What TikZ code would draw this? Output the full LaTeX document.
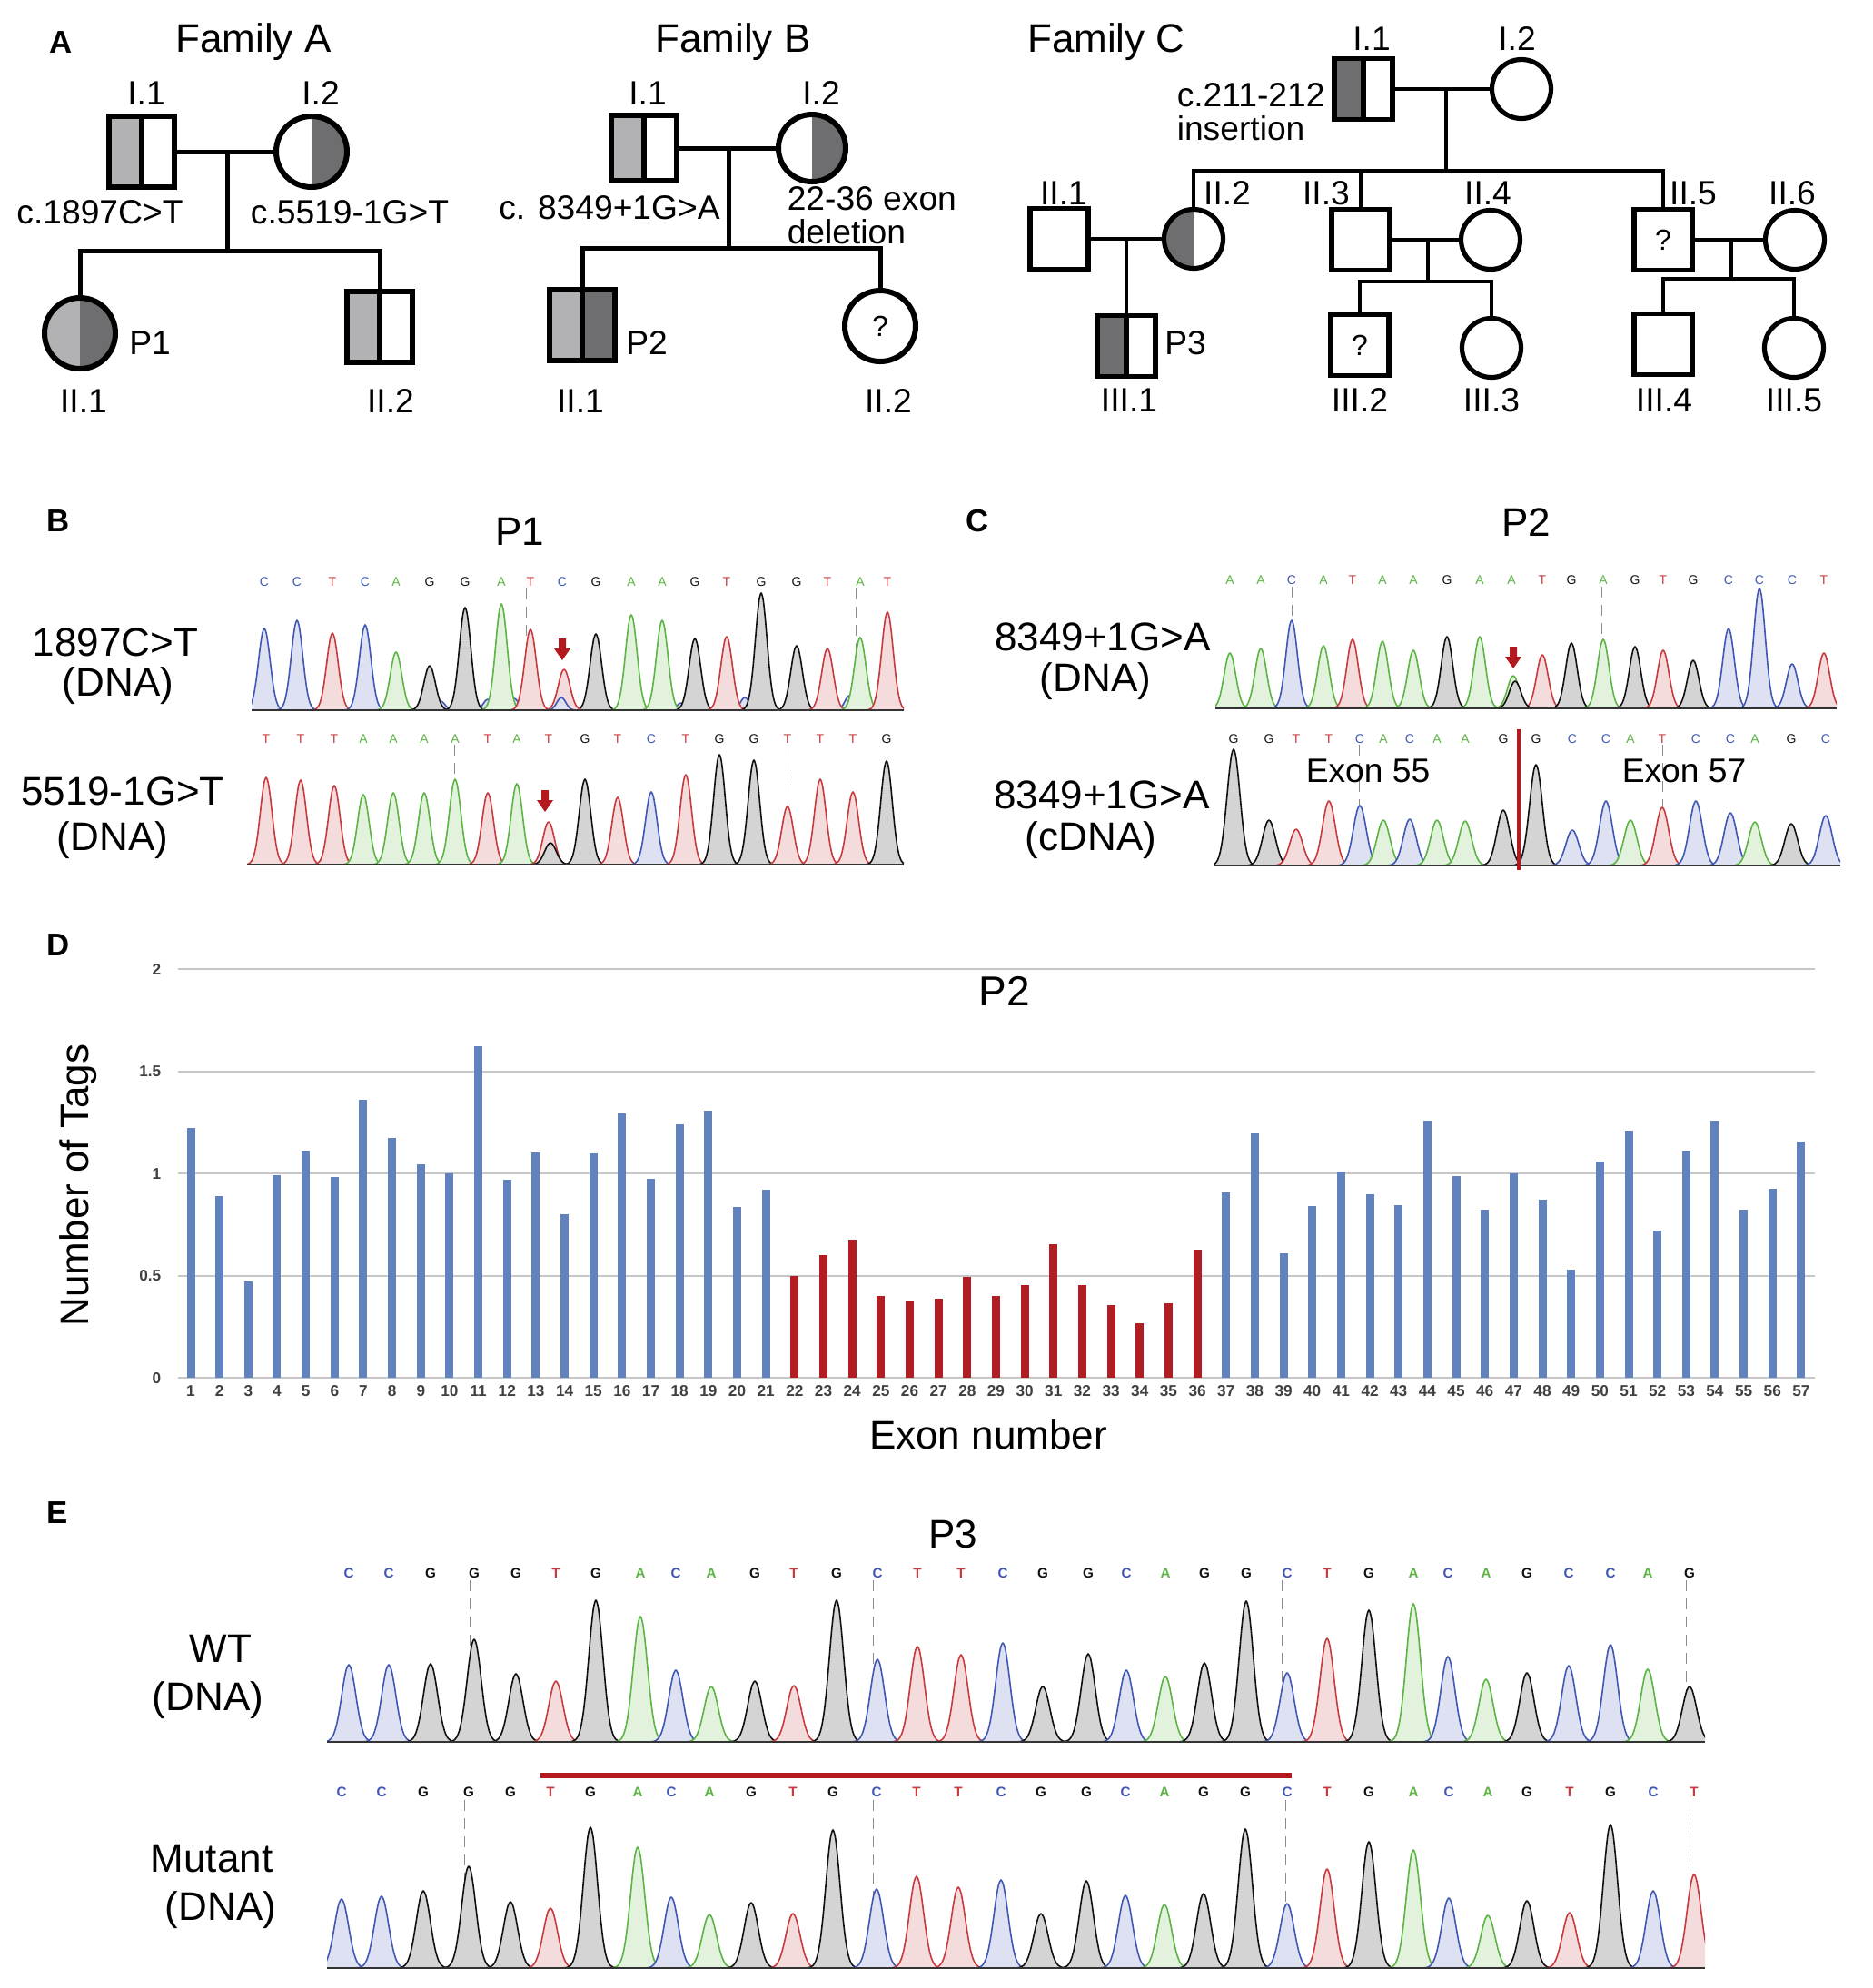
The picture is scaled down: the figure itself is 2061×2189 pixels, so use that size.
\documentclass[tikz,border=0pt]{standalone}
\usepackage{fontspec}
\setmainfont{Liberation Sans}

\definecolor{lg}{HTML}{B2B2B4}
\definecolor{dg}{HTML}{6E6E70}
\definecolor{bA}{HTML}{5CB444}
\definecolor{bC}{HTML}{4058B4}
\definecolor{bG}{HTML}{111111}
\definecolor{bT}{HTML}{C83A3E}
\definecolor{barb}{HTML}{6282BE}
\definecolor{barr}{HTML}{B01E24}
\definecolor{mutred}{HTML}{B3191E}

% one trace peak: [sigma]{x}{top}{colour}, baseline in \chrbase
\newcommand{\peakat}[4][8]{%
  \filldraw[draw=#4, fill=#4!18, line width=0.4pt, line join=round]
    plot[domain=#2-3*#1:#2+3*#1, samples=25, smooth]
    (\x, {\chrbase-(\chrbase-#3)*exp(-(((\x-#2)/#1)^2))});}
\newcommand{\mutarrow}[2]{%
  \fill[mutred] (#1-4,#2) -- (#1+4,#2) -- (#1+4,#2+11) -- (#1+9,#2+11)
    -- (#1,#2+24) -- (#1-9,#2+11) -- (#1-4,#2+11) -- cycle;}

\tikzset{
  msq/.style={rectangle, draw, line width=1.5pt, minimum width=18pt, minimum height=19.5pt, inner sep=0pt},
  fci/.style={circle, draw, line width=1.5pt, minimum size=19.5pt, inner sep=0pt},
  csq/.style={rectangle, draw, line width=1.3pt, minimum width=16pt, minimum height=16.75pt, inner sep=0pt},
  cci/.style={circle, draw, line width=1.3pt, minimum size=16.25pt, inner sep=0pt},
  sqh/.style 2 args={path picture={
    \fill[#1] (path picture bounding box.south west) rectangle (path picture bounding box.north);
    \fill[#2] (path picture bounding box.south) rectangle (path picture bounding box.north east);
    \draw[line width=1.3pt] (path picture bounding box.south) -- (path picture bounding box.north);}},
  cih/.style 2 args={path picture={
    \fill[#1] (path picture bounding box.south west) rectangle (path picture bounding box.north);
    \fill[#2] (path picture bounding box.south) rectangle (path picture bounding box.north east);}},
  pl/.style={line width=1.25pt},
  cpl/.style={line width=1.05pt},
  txt/.style={inner sep=0pt, text depth=0pt},
  big/.style={txt, font=\fontsize{11}{13}\selectfont, text height=7.9pt},
  ped/.style={txt, font=\fontsize{9.3}{11}\selectfont, text height=6.65pt},
  plab/.style={txt, font=\fontsize{8.7}{10}\selectfont\bfseries, text height=6.25pt},
  qm/.style={font=\fontsize{8}{9}\selectfont},
  nt/.style={txt, font=\fontsize{3.5}{4}\selectfont, text height=2.5pt},
  ntb/.style={txt, font=\fontsize{3.8}{4.5}\selectfont\bfseries, text height=2.75pt},
  tick/.style={txt, font=\fontsize{4.3}{5}\selectfont\bfseries, text height=3.1pt, text=black!75},
  grid/.style={black!22, line width=0.5pt},
  dl/.style={black!45, densely dashed, line width=0.25pt},
  base/.style={black!80, line width=0.5pt},
}

\begin{document}
\begin{tikzpicture}[x=0.25pt, y=-0.25pt]
\useasboundingbox (0,0) rectangle (2061,2189);

%% A: pedigrees
\node[plab] (pA) at (67,46) {A};
\node[big] (famA) at (279,42) {Family A};
\node[msq, sqh={lg}{white}] (AI1) at (156,167) {};
\node[fci, cih={white}{dg}] (AI2) at (343,167) {};
\node[fci, cih={lg}{dg}] (AII1) at (88,367) {};
\node[msq, sqh={lg}{white}] (AII2) at (418,360) {};
\coordinate (Am) at (250,167);
\coordinate (As) at (250,276);
\draw[pl] (AI1) -- (AI2);
\draw[pl] (Am) -- (As);
\draw[pl] (AII1.north) |- (As) -| (AII2.north);
\node[ped] (AI1t) at (161,102) {I.1};
\node[ped] (AI2t) at (353,102) {I.2};
\node[ped] (AI1v) at (110,233) {c.1897C>T};
\node[ped] (AI2v) at (385,233) {c.5519-1G>T};
\node[ped] (AP1) at (165,377) {P1};
\node[ped] (AII1t) at (92,441) {II.1};
\node[ped] (AII2t) at (430,441) {II.2};

\node[big] (famB) at (807,42) {Family B};
\node[msq, minimum height=18pt, sqh={lg}{white}] (BI1) at (709,163) {};
\node[fci, minimum size=18.5pt, cih={white}{dg}] (BI2) at (894,163) {};
\node[msq, sqh={lg}{dg}] (BII1) at (641,358) {};
\node[fci, qm] (BII2) at (969,359) {?};
\coordinate (Bm) at (802,163);
\coordinate (Bs) at (802,273);
\draw[pl] (BI1) -- (BI2);
\draw[pl] (Bm) -- (Bs);
\draw[pl] (BII1.north) |- (Bs) -| (BII2.north);
\node[ped] (BI1t) at (713,102) {I.1};
\node[ped] (BI2t) at (904,102) {I.2};
\node[ped] (BI1v) at (671,228) {c. 8349+1G>A};
\node[ped, anchor=west] (BI2v) at (866,218) {22-36 exon};
\node[ped, anchor=west] (BI2w) at (866,255) {deletion};
\node[ped] (BP2) at (712,377) {P2};
\node[ped] (BII1t) at (639,441) {II.1};
\node[ped] (BII2t) at (978,441) {II.2};

\node[big] (famC) at (1218,42) {Family C};
\node[csq, sqh={dg}{white}] (CI1) at (1501,98) {};
\node[cci] (CI2) at (1675,98) {};
\coordinate (Cm) at (1592,98);
\coordinate (Cs) at (1592,188);
\node[csq] (CII1) at (1166,263) {};
\node[cci, cih={dg}{white}] (CII2) at (1314,263) {};
\node[csq] (CII3) at (1498,264) {};
\node[cci] (CII4) at (1641,264) {};
\node[csq, qm] (CII5) at (1831,264) {?};
\node[cci] (CII6) at (1976,264) {};
\coordinate (Cp) at (1240,263);
\node[csq, sqh={dg}{white}] (CIII1) at (1240,381) {};
\coordinate (Cq) at (1572,264);
\coordinate (Cr) at (1572,310);
\node[csq, qm] (CIII2) at (1497,380) {?};
\node[cci] (CIII3) at (1642,383) {};
\coordinate (Ct) at (1906,264);
\coordinate (Cu) at (1906,307);
\node[csq] (CIII4) at (1831,379) {};
\node[cci] (CIII5) at (1975,383) {};
\draw[cpl] (CI1) -- (CI2);
\draw[cpl] (Cm) -- (Cs);
\draw[cpl] (CII2.north) |- (Cs) -| (CII5.north);
\draw[cpl] (CII3.north) -- (CII3.north |- Cs);
\draw[cpl] (CII1) -- (CII2);
\draw[cpl] (Cp) -- (CIII1.north);
\draw[cpl] (CII3) -- (CII4);
\draw[cpl] (Cq) -- (Cr);
\draw[cpl] (CIII2.north) |- (Cr) -| (CIII3.north);
\draw[cpl] (CII5) -- (CII6);
\draw[cpl] (Ct) -- (Cu);
\draw[cpl] (CIII4.north) |- (Cu) -| (CIII5.north);
\node[ped] (CI1t) at (1510,42) {I.1};
\node[ped] (CI2t) at (1670,42) {I.2};
\node[ped, anchor=west] (CI1v) at (1295,104) {c.211-212};
\node[ped, anchor=west] (CI1w) at (1295,141) {insertion};
\node[ped] (CII1t) at (1171,212) {II.1};
\node[ped] (CII2t) at (1351,212) {II.2};
\node[ped] (CII3t) at (1460,212) {II.3};
\node[ped] (CII4t) at (1638,212) {II.4};
\node[ped] (CII5t) at (1864,212) {II.5};
\node[ped] (CII6t) at (1973,212) {II.6};
\node[ped] (CP3) at (1305,377) {P3};
\node[ped] (CIII1t) at (1243,440) {III.1};
\node[ped] (CIII2t) at (1497,440) {III.2};
\node[ped] (CIII3t) at (1642,440) {III.3};
\node[ped] (CIII4t) at (1832,440) {III.4};
\node[ped] (CIII5t) at (1975,440) {III.5};

%% B: P1 traces
\node[plab] (pB) at (64,573) {B};
\node[big] (tP1) at (572,585) {P1};
\node[big] (lB1) at (127,707) {1897C>T};
\node[big] (lB1d) at (130,751) {(DNA)};
\node[big] (lB2) at (135,871) {5519-1G>T};
\node[big] (lB2d) at (124,921) {(DNA)};

\begin{scope}
\clip (277,628) rectangle (995,786);
\def\chrbase{782}
\draw[dl] (579,648) -- (579,782);
\draw[dl] (942,648) -- (942,782);
\foreach \p/\h in {283/770, 336/773, 436/769, 485/772, 537/770, 566/769, 705/773, 750/774, 820/768, 935/766, 977/768}
  \peakat[7]{\p}{\h}{bC};
\foreach \p/\h/\l [count=\i] in {291/692/C, 327/683/C, 366/697/T, 402/688/C, 436/718/A, 473/733/G, 512/669/G, 552/665/A, 584/693/T, 656/698/G, 695/677/A, 729/683/A, 765/703/G, 800/701/T, 838/653/G, 877/711/G, 911/714/T, 947/702/A, 977/674/T}{
  \peakat[9]{\p}{\h}{b\l}
  \node[nt, text=b\l] (Bt\i) at (\p,640) {\l};
}
\peakat[9]{621}{737}{bT}
\peakat[7]{618}{768}{bC}
\node[nt, text=bC] (BtM) at (619,640) {C};
\draw[base] (277,782) -- (995,782);
\end{scope}
\mutarrow{619}{703}

\begin{scope}
\clip (272,802) rectangle (995,956);
\def\chrbase{952}
\draw[dl] (500,820) -- (500,952);
\draw[dl] (867,820) -- (867,952);
\foreach \p/\h/\l [count=\i] in {293/856/T, 331/859/T, 368/865/T, 400/875/A, 433/873/A, 467/873/A, 501/858/A, 537/873/T, 569/863/A, 644/858/G, 680/878/T, 717/872/C, 755/853/T, 792/831/G, 830/837/G, 867/888/T, 903/858/T, 939/872/T, 976/838/G}{
  \peakat[9]{\p}{\h}{b\l}
  \node[nt, text=b\l] (Bb\i) at (\p,813) {\l};
}
\peakat[9]{604}{905}{bT}
\peakat[9]{606}{928}{bG}
\node[nt, text=bT] (BbM) at (604,813) {T};
\draw[base] (272,952) -- (995,952);
\end{scope}
\mutarrow{600}{870}

%% C: P2 traces
\node[plab] (pC) at (1076,573) {C};
\node[big] (tP2) at (1680,575) {P2};
\node[big] (lC1) at (1214,701) {8349+1G>A};
\node[big] (lC1d) at (1206,746) {(DNA)};
\node[big] (lC2) at (1213,875) {8349+1G>A};
\node[big] (lC2d) at (1201,921) {(cDNA)};

\begin{scope}
\clip (1338,626) rectangle (2022,784);
\def\chrbase{780}
\draw[dl] (1422,646) -- (1422,780);
\draw[dl] (1763,646) -- (1763,780);
\foreach \p/\h/\l [count=\i] in {1354/719/A, 1388/714/A, 1422/683/C, 1457/711/A, 1489/704/T, 1522/706/A, 1556/716/A, 1593/701/G, 1629/701/A, 1698/721/T, 1730/708/G, 1765/704/A, 1800/712/G, 1831/716/T, 1864/727/G, 1903/692/C, 1937/648/C, 1973/731/C, 2008/719/T}{
  \peakat[9]{\p}{\h}{b\l}
  \node[nt, text=b\l] (Ct\i) at (\p,638) {\l};
}
\peakat[9]{1666}{744}{bA}
\peakat[9]{1668}{750}{bG}
\node[nt, text=bA] (CtM) at (1664,638) {A};
\draw[base] (1338,780) -- (2022,780);
\end{scope}
\mutarrow{1666}{712}

\begin{scope}
\clip (1336,802) rectangle (2026,956);
\def\chrbase{953}
\draw[dl] (1496,820) -- (1496,953);
\draw[dl] (1830,820) -- (1830,953);
\foreach \p/\h/\l [count=\i] in {1358/825/G, 1397/903/G, 1427/913/T, 1463/882/T, 1497/887/C, 1523/903/A, 1552/902/C, 1582/903/A, 1613/904/A, 1655/892/G, 1691/842/G, 1731/914/C, 1768/882/C, 1795/903/A, 1830/889/T, 1867/882/C, 1905/895/C, 1932/905/A, 1972/907/G, 2010/898/C}{
  \peakat[10]{\p}{\h}{b\l}
  \node[nt, text=b\l] (Cb\i) at (\p,813) {\l};
}
\draw[base] (1336,953) -- (2026,953);
\end{scope}
\draw[mutred, line width=1.1pt] (1672,803) -- (1672,958);
\node[ped] (ex55) at (1506,848) {Exon 55};
\node[ped] (ex57) at (1854,848) {Exon 57};

%% D: exon tag counts
\node[plab] (pD) at (64,1040) {D};
\node[big, font=\fontsize{11.5}{13}\selectfont] (tP2d) at (1106,1092) {P2};
\foreach \g [count=\j] in {0,0.5,1,1.5,2}{
  \draw[grid] (196,{1517-225*\g}) -- (1998,{1517-225*\g});
  \node[tick, anchor=east] (yt\j) at (178,{1517-225*\g}) {\g};
}
\foreach \v [count=\i] in {1.222,0.891,0.472,0.993,1.112,0.981,1.362,1.175,1.046,0.998,1.621,0.969,1.104,0.801,1.100,1.294,0.973,1.241,1.307,0.837,0.920,0.497,0.598,0.676,0.399,0.379,0.387,0.492,0.399,0.455,0.654,0.455,0.357,0.268,0.365,0.628,0.905,1.194,0.611,0.840,1.007,0.898,0.846,1.260,0.985,0.823,0.998,0.871,0.530,1.058,1.211,0.722,1.112,1.260,0.823,0.925,1.156}{
  \pgfmathsetmacro{\bx}{210+31.66*(\i-1)}
  \def\bcol{barb}
  \ifnum\i>21 \ifnum\i<37 \def\bcol{barr}\fi\fi
  \fill[fill=\bcol] (\bx-4.5,1517) rectangle (\bx+4.5,{1517-225*\v});
  \node[tick] (xt\i) at (\bx,1531) {\i};
}
\node[big, rotate=90] (ylab) at (82,1305) {Number of Tags};
\node[big] (xlab) at (1088,1580) {Exon number};

%% E: P3 traces
\node[plab] (pE) at (63,1665) {E};
\node[big] (tP3) at (1049,1689) {P3};
\node[big] (lWT) at (243,1815) {WT};
\node[big] (lWTd) at (229,1868) {(DNA)};
\node[big] (lMu) at (233,2046) {Mutant};
\node[big] (lMud) at (243,2099) {(DNA)};

\begin{scope}
\clip (360,1720) rectangle (1877,1921);
\def\chrbase{1918}
\foreach \d in {517,961,1411,1856} \draw[dl] (\d,1740) -- (\d,1918);
\foreach \p/\h/\l [count=\i] in {384/1833/C, 428/1833/C, 474/1832/G, 522/1805/G, 568/1843/G, 612/1851/T, 656/1762/G, 705/1780/A, 744/1839/C, 783/1857/A, 831/1851/G, 874/1856/T, 921/1762/G, 966/1827/C, 1010/1813/T, 1058/1822/T, 1104/1809/C, 1148/1857/G, 1198/1821/G, 1240/1839/C, 1283/1846/A, 1326/1831/G, 1372/1763/G, 1417/1842/C, 1461/1804/T, 1507/1773/G, 1556/1766/A, 1594/1824/C, 1636/1849/A, 1681/1842/G, 1727/1834/C, 1773/1811/C, 1814/1838/A, 1860/1857/G}{
  \peakat[11]{\p}{\h}{b\l}
  \node[ntb, text=b\l] (Ew\i) at (\p,1732) {\l};
}
\draw[base] (360,1918) -- (1877,1918);
\end{scope}

\draw[mutred, line width=1.5pt] (595,1955) -- (1422,1955);

\begin{scope}
\clip (360,1962) rectangle (1877,2170);
\def\chrbase{2167}
\foreach \d in {511,961,1415,1860} \draw[dl] (\d,1982) -- (\d,2167);
\foreach \p/\h/\l [count=\i] in {376/2091/C, 420/2088/C, 466/2082/G, 516/2055/G, 562/2094/G, 606/2101/T, 650/2012/G, 702/2034/A, 739/2089/C, 781/2108/A, 827/2095/G, 873/2107/T, 917/2015/G, 965/2080/C, 1009/2066/T, 1055/2078/T, 1102/2070/C, 1146/2107/G, 1196/2071/G, 1239/2087/C, 1282/2097/A, 1325/2085/G, 1371/2014/G, 1417/2096/C, 1461/2058/T, 1507/2028/G, 1556/2037/A, 1595/2090/C, 1638/2109/A, 1681/2093/G, 1728/2106/T, 1773/2009/G, 1820/2082/C, 1865/2064/T}{
  \peakat[11]{\p}{\h}{b\l}
  \node[ntb, text=b\l] (Em\i) at (\p,1973) {\l};
}
\draw[base] (360,2167) -- (1877,2167);
\end{scope}
\end{tikzpicture}
\end{document}
